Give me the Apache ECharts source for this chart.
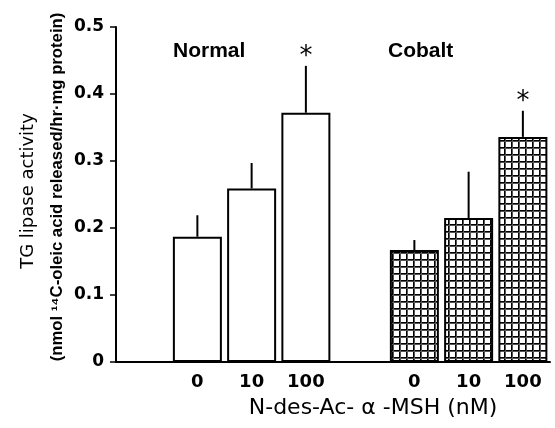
<!DOCTYPE html>
<html>
<head>
<meta charset="utf-8">
<script src="https://cdn.jsdelivr.net/npm/echarts@6/dist/echarts.min.js"></script>
<style>html,body{margin:0;padding:0;background:#fff;}#c{width:555px;height:428px;}</style>
</head>
<body>
<div id="c"></div>
<script>
// ---- data ----
var doseLabels = ["0", "10", "100"];
var groups = ["Normal", "Cobalt"];
var normalMean = [0.187, 0.259, 0.372];
var normalUpper = [0.219, 0.297, 0.442];
var cobaltMean = [0.167, 0.215, 0.336];
var cobaltUpper = [0.182, 0.284, 0.375];
var normalSig = [false, false, true];
var cobaltSig = [false, false, true];
var yTicks = [0, 0.1, 0.2, 0.3, 0.4, 0.5];
var xTitle = "N-des-Ac- \u03b1 -MSH (nM)";
var yTitle1 = "TG lipase activity";
var yTitle2 = "(nmol \u00b9\u2074C-oleic acid released/hr\u00b7mg protein)";

// categories: spacer, Normal doses, spacer, Cobalt doses
var cats = [""].concat(doseLabels, [""], doseLabels);
var nIdx = [1, 2, 3], cIdx = [5, 6, 7];
function place(idx, vals) {
  var arr = cats.map(function () { return null; });
  idx.forEach(function (k, i) { arr[k] = vals[i]; });
  return arr;
}
var errData = [];
nIdx.forEach(function (k, i) { errData.push([k, normalMean[i], normalUpper[i], normalSig[i] ? 1 : 0]); });
cIdx.forEach(function (k, i) { errData.push([k, cobaltMean[i], cobaltUpper[i], cobaltSig[i] ? 1 : 0]); });

// grid pattern for Cobalt bars
var pc = document.createElement('canvas');
pc.width = 7; pc.height = 7;
var g = pc.getContext('2d');
g.fillStyle = '#fff'; g.fillRect(0, 0, 7, 7);
g.fillStyle = '#000'; g.fillRect(0, 0, 7, 1); g.fillRect(0, 0, 1, 7);
g.fillStyle = '#555'; g.fillRect(0, 1, 7, 1); g.fillRect(1, 0, 1, 7);

var chart = echarts.init(document.getElementById('c'), null, {renderer: 'canvas'});
var numFont = 'DejaVu Sans';
chart.setOption({
  animation: false,
  backgroundColor: '#fff',
  grid: {left: 116, right: 5, top: 27, bottom: 66},
  xAxis: {
    type: 'category', data: cats,
    axisLine: {lineStyle: {color: '#000', width: 2}},
    axisTick: {show: false},
    axisLabel: {color: '#000', fontFamily: numFont, fontWeight: 'bold', fontSize: 18, margin: 11}
  },
  yAxis: {
    type: 'value', min: yTicks[0], max: yTicks[yTicks.length - 1], interval: 0.1,
    splitLine: {show: false},
    axisLine: {show: true, lineStyle: {color: '#000', width: 2}},
    axisTick: {show: true, length: 6, lineStyle: {color: '#000', width: 1.5}},
    axisLabel: {color: '#000', fontFamily: numFont, fontWeight: 'bold', fontSize: 17, margin: 12}
  },
  series: [
    {type: 'bar', data: place(nIdx, normalMean), barWidth: 49, barGap: '-100%',
     itemStyle: {color: '#fff', borderColor: '#000', borderWidth: 2}},
    {type: 'bar', data: place(cIdx, cobaltMean), barWidth: 49, barGap: '-100%',
     itemStyle: {color: {image: pc, repeat: 'repeat'}, borderColor: '#000', borderWidth: 2}},
    {type: 'custom', data: errData, z: 5,
     renderItem: function (params, api) {
       var x = api.value(0);
       var p0 = api.coord([x, api.value(1)]);
       var p1 = api.coord([x, api.value(2)]);
       var children = [{type: 'line', shape: {x1: p0[0], y1: p0[1], x2: p1[0], y2: p1[1]},
                        style: {stroke: '#000', lineWidth: 2}}];
       if (api.value(3)) {
         children.push({type: 'text', style: {text: '*', x: p1[0], y: p1[1] - 9,
           align: 'center', verticalAlign: 'middle', fill: '#000',
           font: '26px "DejaVu Sans"'}});
       }
       return {type: 'group', children: children};
     }}
  ],
  graphic: [
    {type: 'text', left: 173, top: 41, style: {text: groups[0], fill: '#000', font: 'bold 21px "Liberation Sans"'}},
    {type: 'text', left: 388, top: 41, style: {text: groups[1], fill: '#000', font: 'bold 21px "Liberation Sans"'}},
    {type: 'text', x: 373, y: 408, style: {text: xTitle, fill: '#000', align: 'center', verticalAlign: 'middle', font: '22px "DejaVu Sans"'}},
    {type: 'text', x: 28, y: 191, rotation: Math.PI / 2, style: {text: yTitle1, fill: '#000', align: 'center', verticalAlign: 'middle', font: '18px "DejaVu Sans"'}},
    {type: 'text', x: 57, y: 187, rotation: Math.PI / 2, style: {text: yTitle2, fill: '#000', align: 'center', verticalAlign: 'middle', font: 'bold 16.7px "Liberation Sans"'}}
  ]
});
</script>
</body>
</html>
